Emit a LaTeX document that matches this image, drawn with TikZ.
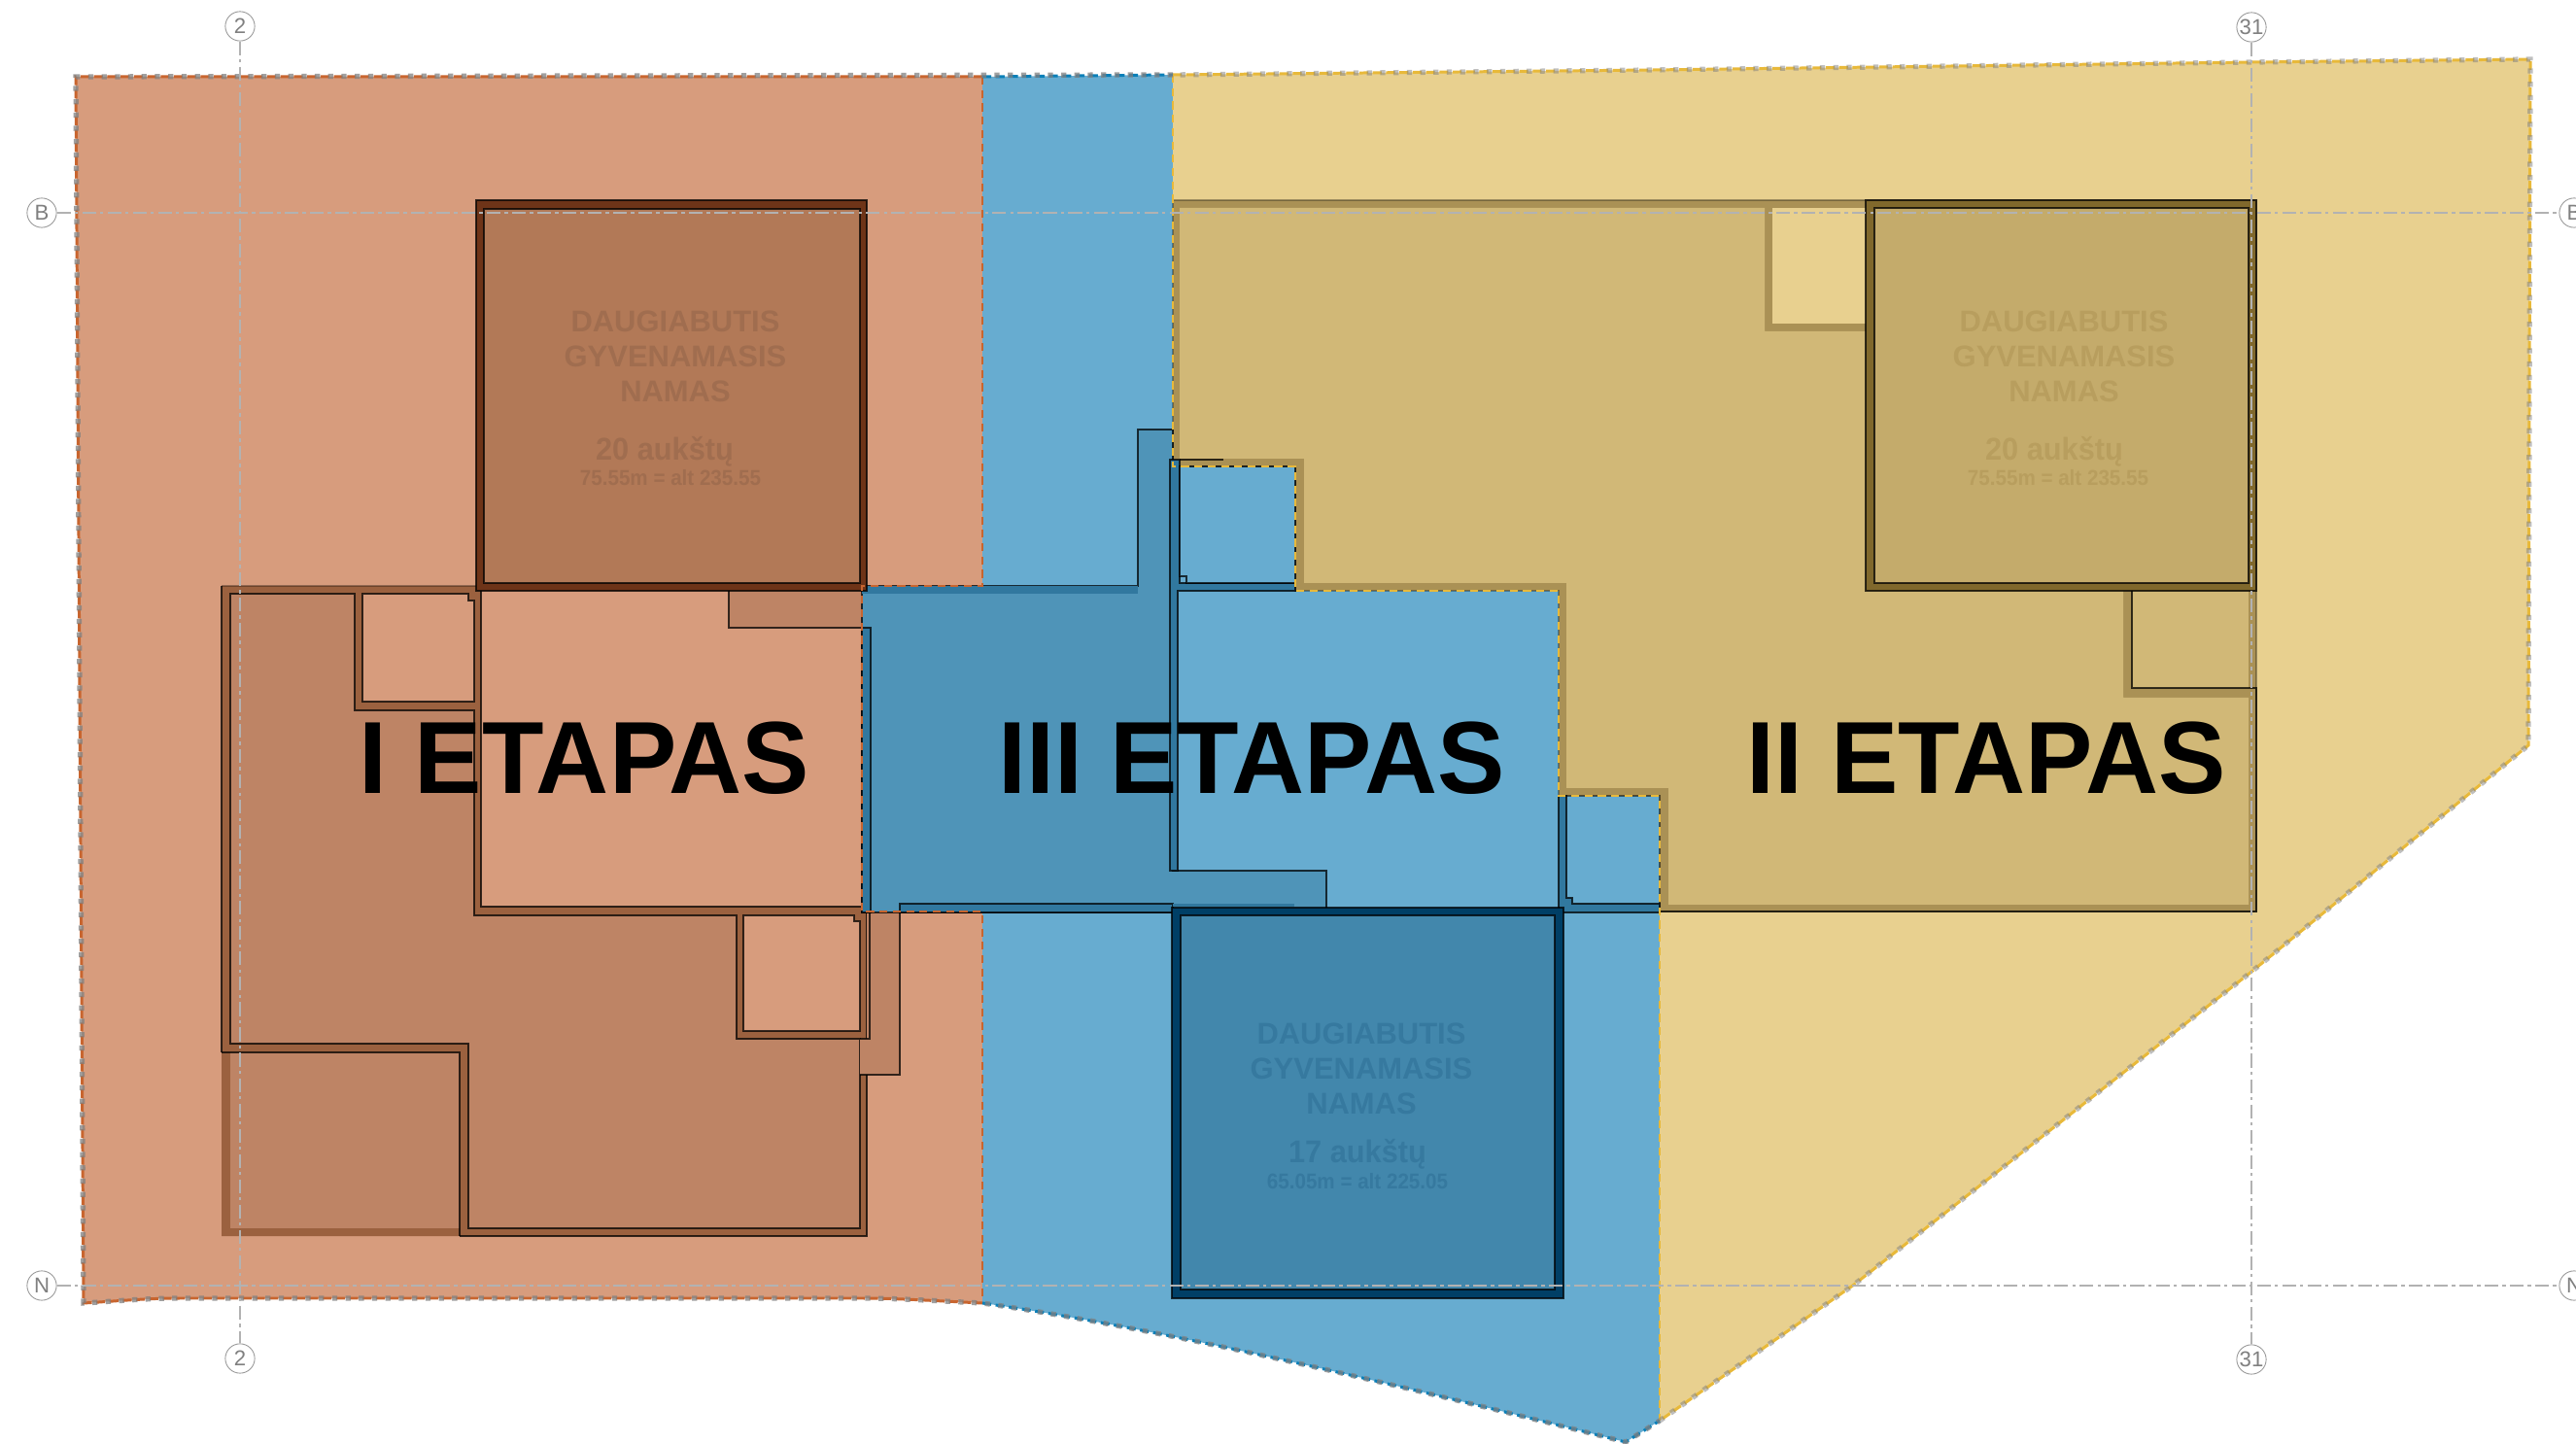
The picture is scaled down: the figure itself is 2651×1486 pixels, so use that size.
\documentclass[tikz,border=0pt]{standalone}
\usepackage{fontspec}
\setmainfont{Liberation Sans}
\definecolor{siteA}{HTML}{D79C7D}
\definecolor{midA}{HTML}{BE8465}
\definecolor{wallA}{HTML}{9B613F}
\definecolor{towerA}{HTML}{B27957}
\definecolor{towerwallA}{HTML}{6E3418}
\definecolor{lineA}{HTML}{C8652F}
\definecolor{textA}{HTML}{A06D4F}
\definecolor{siteB}{HTML}{E8D08F}
\definecolor{midB}{HTML}{D1B877}
\definecolor{wallB}{HTML}{AA9155}
\definecolor{towerB}{HTML}{C4AB6B}
\definecolor{towerwallB}{HTML}{80682C}
\definecolor{lineB}{HTML}{E8B93A}
\definecolor{textB}{HTML}{B89E5E}
\definecolor{siteC}{HTML}{67ACD0}
\definecolor{midC}{HTML}{4F94B8}
\definecolor{wallC}{HTML}{31789F}
\definecolor{towerC}{HTML}{4287AC}
\definecolor{towerwallC}{HTML}{003F66}
\definecolor{lineC}{HTML}{0A7FB8}
\definecolor{textC}{HTML}{36799F}
\tikzset{
  edge/.style={draw=black, line width=.33pt, draw opacity=.75},
  softedge/.style={draw=black, line width=.33pt, draw opacity=.3},
  limit/.style={line width=.6pt, dash pattern=on 2.3pt off 1.6pt},
  outline/.style={line width=.85pt, dash pattern=on 2.6pt off 1.3pt},
  dots/.style={draw=gray, line width=1.5pt, dash pattern=on 1.5pt off 2.4pt, draw opacity=.75},
  softdots/.style={dots, draw opacity=.5},
  gridln/.style={draw=gray!60, line width=.4pt, dash pattern=on 4pt off 1.2pt on 1pt off 1.2pt},
  bubble/.style={circle, draw=gray!80, fill=white, line width=.25pt, minimum size=8.6pt, inner sep=0pt, text=gray, font=\fontsize{6.3}{7}\selectfont},
  title/.style={font=\bfseries\fontsize{30}{34}\selectfont, text=black, inner sep=0pt, xscale=.985},
  blockname/.style={font=\bfseries\fontsize{8.8}{10.2}\selectfont, align=center, inner sep=0pt},
  floors/.style={font=\bfseries\fontsize{9.2}{10}\selectfont, inner sep=0pt, xscale=.95},
  height/.style={font=\bfseries\fontsize{6.3}{7}\selectfont, inner sep=0pt, xscale=.93},
}
\begin{document}
\begin{tikzpicture}[x=0.01cm, y=-0.01cm]
    \useasboundingbox (0, 0) rectangle (2651, 1486);
    % site zones
    \fill [siteA] (78, 79) -- (1011, 79) -- (1011, 603) -- (887, 603) -- (887, 938) -- (1011, 938) -- (1011, 1341) .. controls (950, 1338) and (920, 1336) .. (888, 1336) -- (186, 1336) .. controls (150, 1336) and (120, 1339) .. (86, 1341) -- cycle;
    \fill [siteC] (1011, 79) -- (1207, 77) -- (1207, 480) -- (1333, 480) -- (1333, 608) -- (1604, 608) -- (1604, 819) -- (1708, 819) -- (1708, 1462) -- (1673, 1484) .. controls (1400, 1415) and (1180, 1365) .. (1011, 1341) -- (1011, 938) -- (887, 938) -- (887, 603) -- (1011, 603) -- cycle;
    \fill [siteB] (1207, 77) -- (1700, 72) -- (2317, 64) -- (2604, 61) -- (2602, 767) -- (2317, 1000) -- (1908, 1322) -- (1708, 1462) -- (1708, 819) -- (1604, 819) -- (1604, 608) -- (1333, 608) -- (1333, 480) -- (1207, 480) -- cycle;
    % stage I podium
    \fill [wallA] (228, 603) -- (495, 603) -- (495, 933) -- (892, 933) -- (892, 1272) -- (228, 1272) -- cycle;
    \draw [edge] (228, 1083) -- (228, 603);
    \draw [softedge] (228, 603) -- (495, 603);
    \draw [edge] (495, 603) -- (495, 933) -- (892, 933) -- (892, 1272) -- (473, 1272);
    \filldraw [fill=midA, edge] (237, 611) -- (365, 611) -- (365, 731) -- (488, 731) -- (488, 942) -- (758, 942) -- (758, 1069) -- (885, 1069) -- (885, 1264) -- (482, 1264) -- (482, 1074) -- (237, 1074) -- cycle;
    \fill [midA] (237, 1083) rectangle (473, 1264);
    \draw [edge] (228, 1083) -- (473, 1083) -- (473, 1272);
    \filldraw [fill=siteA, edge] (373, 611) -- (482, 611) -- (482, 618) -- (488, 618) -- (488, 722) -- (373, 722) -- cycle;
    \filldraw [fill=siteA, edge] (765, 942) -- (879, 942) -- (879, 948) -- (885, 948) -- (885, 1061) -- (765, 1061) -- cycle;
    \fill [midA] (892, 938) -- (926, 938) -- (926, 1106) -- (885, 1106) -- (885, 1069) -- (892, 1069) -- cycle;
    \draw [edge] (926, 938) -- (926, 1106) -- (885, 1106);
    \draw [edge] (885, 1069) -- (895, 1069) -- (895, 938);
    \fill [midA] (750, 608) -- (888, 608) -- (888, 646) -- (750, 646) -- cycle;
    \draw [edge] (750, 608) -- (750, 646) -- (888, 646);
    % stage II podium
    \filldraw [fill=wallB, softedge] (1207, 206) -- (2322, 206) -- (2322, 938) -- (1708, 938) -- (1708, 819) -- (1604, 819) -- (1604, 608) -- (1333, 608) -- (1333, 480) -- (1207, 480) -- cycle;
    \fill [midB] (1214, 214) -- (1816, 214) -- (1816, 341) -- (1920, 341) -- (1920, 608) -- (2185, 608) -- (2185, 718) -- (2314, 718) -- (2314, 931) -- (1717, 931) -- (1717, 811) -- (1612, 811) -- (1612, 600) -- (1342, 600) -- (1342, 472) -- (1214, 472) -- cycle;
    \fill [siteB] (1824, 214) rectangle (1920, 333);
    \fill [midB] (2194, 608) rectangle (2314, 708);
    \draw [edge] (2194, 608) -- (2194, 708) -- (2322, 708) -- (2322, 938) -- (1708, 938);
    % stage III podium
    \filldraw [fill=midC, edge] (887, 603) -- (1171, 603) -- (1171, 442) -- (1207, 442) -- (1207, 896) -- (1365, 896) -- (1365, 939) -- (887, 939) -- cycle;
    \fill [wallC] (887, 603) rectangle (1171, 611);
    \filldraw [fill=wallC, edge] (896, 646) -- (887, 646) -- (887, 939) -- (896, 939) -- cycle;
    \filldraw [fill=wallC, edge] (926, 939) -- (926, 930) -- (1207, 930) -- (1207, 939) -- cycle;
    \fill [wallC] (1207, 930) rectangle (1332, 933);
    \filldraw [fill=wallC, edge] (1204, 473) -- (1214, 473) -- (1214, 600) -- (1333, 600) -- (1333, 608) -- (1212, 608) -- (1212, 896) -- (1204, 896) -- cycle;
    \draw [edge] (1214, 473) -- (1259, 473);
    \filldraw [fill=siteC, edge] (1214, 480) -- (1333, 480) -- (1333, 600) -- (1221, 600) -- (1221, 593) -- (1214, 593) -- cycle;
    \filldraw [fill=wallC, edge] (1604, 819) -- (1612, 819) -- (1612, 924) -- (1618, 924) -- (1618, 930) -- (1708, 930) -- (1708, 939) -- (1604, 939) -- cycle;
    \draw [softedge] (1612, 819) -- (1708, 819) -- (1708, 930);
    % towers
    \filldraw [fill=towerwallA, edge] (490, 206) rectangle (892, 608);
    \filldraw [fill=towerA, edge] (498, 215) rectangle (885, 600);
    \filldraw [fill=towerwallB, edge] (1920, 206) rectangle (2322, 608);
    \filldraw [fill=towerB, edge] (1929, 214) rectangle (2314, 600);
    \filldraw [fill=towerwallC, edge] (1206, 934) rectangle (1609, 1336);
    \filldraw [fill=towerC, edge] (1215, 942) rectangle (1600, 1327);
    % zone limits
    \draw [lineA, limit] (1011, 79) -- (1011, 603) -- (887, 603) -- (887, 938) -- (1011, 938) -- (1011, 1341);
    \draw [lineB, limit] (1207, 77) -- (1207, 480) -- (1333, 480) -- (1333, 608) -- (1604, 608) -- (1604, 819) -- (1708, 819) -- (1708, 1462);
    \draw [lineA, outline] (1011, 79) -- (78, 79) -- (86, 1341) .. controls (120, 1339) and (150, 1336) .. (186, 1336) -- (888, 1336) .. controls (920, 1336) and (950, 1338) .. (1011, 1341);
    \draw [lineC, outline] (1011, 79) -- (1207, 77);
    \draw [lineC, outline] (1011, 1341) .. controls (1180, 1365) and (1400, 1415) .. (1673, 1484) -- (1708, 1462);
    \draw [lineB, outline] (1207, 77) -- (1700, 72) -- (2317, 64) -- (2604, 61) -- (2602, 767) -- (2317, 1000) -- (1908, 1322) -- (1708, 1462);
    \draw [dots] (1207, 77) -- (78, 79) -- (86, 1341) .. controls (120, 1339) and (150, 1336) .. (186, 1336) -- (888, 1336) .. controls (920, 1336) and (950, 1338) .. (1011, 1341) .. controls (1180, 1365) and (1400, 1415) .. (1673, 1484) -- (1708, 1462);
    \draw [softdots] (1708, 1462) -- (1908, 1322) -- (2317, 1000) -- (2602, 767) -- (2604, 61) -- (2317, 64) -- (1700, 72) -- (1207, 77);
    % grid
    \node [bubble] (g2t) at (247, 27) {2};
    \node [bubble] (g2b) at (247, 1398) {2};
    \node [bubble] (g31t) at (2317, 28) {31};
    \node [bubble] (g31b) at (2317, 1399) {31};
    \node [bubble] (gBl) at (43, 219) {B};
    \node [bubble] (gBr) at (2649, 219) {B};
    \node [bubble] (gNl) at (43, 1323) {N};
    \node [bubble] (gNr) at (2649, 1323) {N};
    \draw [gridln] (g2t) to (g2b);
    \draw [gridln] (g31t) to (g31b);
    \draw [gridln] (gBl) to (gBr);
    \draw [gridln] (gNl) to (gNr);
    % block labels
    \node [blockname, text=textA] (nameA) at (695, 367) {DAUGIABUTIS\\GYVENAMASIS\\NAMAS};
    \node [floors, text=textA] (floorsA) at (684, 465) {20 aukštų};
    \node [height, text=textA] (heightA) at (690, 492) {75.55m = alt 235.55};
    \node [blockname, text=textB] (nameB) at (2124, 367) {DAUGIABUTIS\\GYVENAMASIS\\NAMAS};
    \node [floors, text=textB] (floorsB) at (2114, 465) {20 aukštų};
    \node [height, text=textB] (heightB) at (2118, 492) {75.55m = alt 235.55};
    \node [blockname, text=textC] (nameC) at (1401, 1100) {DAUGIABUTIS\\GYVENAMASIS\\NAMAS};
    \node [floors, text=textC] (floorsC) at (1397, 1188) {17 aukštų};
    \node [height, text=textC] (heightC) at (1397, 1216) {65.05m = alt 225.05};
    % stage titles
    \node [title] (stageA) at (601, 780) {I ETAPAS};
    \node [title] (stageC) at (1288, 780) {III ETAPAS};
    \node [title] (stageB) at (2044, 780) {II ETAPAS};
\end{tikzpicture}
\end{document}
